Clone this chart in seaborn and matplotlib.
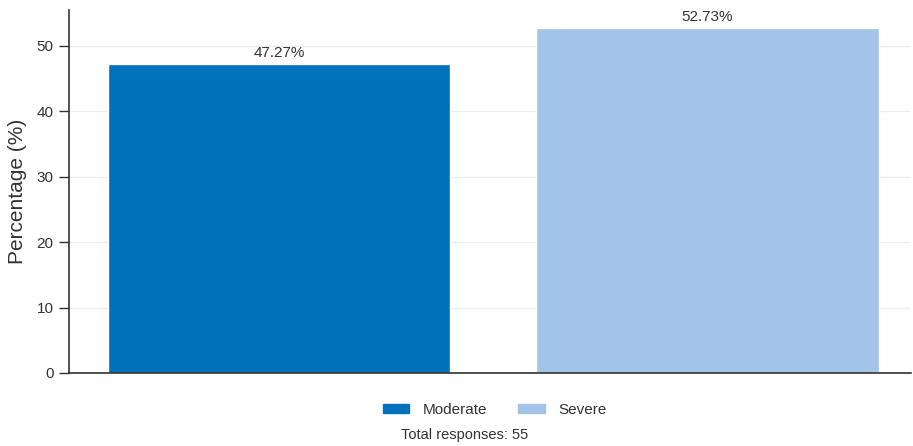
import pandas as pd
import matplotlib.pyplot as plt
import seaborn as sns

# data
categories = ["Moderate", "Severe"]
percentages = [47.27, 52.73]
total_responses = 55
colors = ["#0072BB", "#A2C4E8"]

df = pd.DataFrame({"Severity": categories, "Percentage": percentages})

sns.set_style("white")
plt.rcParams['font.family'] = ['Liberation Sans', 'DejaVu Sans']

fig = plt.figure(figsize=(9.13, 4.46), dpi=100)
ax = fig.add_axes([0.0756, 0.1637, 0.922, 0.814])

sns.barplot(data=df, x="Severity", y="Percentage", hue="Severity",
            palette=colors, width=0.8, saturation=1, ax=ax, legend=False, zorder=2)

ax.set_xlim(-0.49, 1.475)
ax.set_ylim(0, 55.5)
ax.set_yticks([0, 10, 20, 30, 40, 50])
ax.yaxis.grid(True, color="#EEEEEE", linewidth=1, zorder=0)
ax.set_axisbelow(True)
ax.set_xticks([])
ax.set_xlabel("")
ax.set_ylabel("Percentage (%)", fontsize=15, color="#333333", labelpad=7)
ax.tick_params(axis="y", labelsize=11, colors="#333333", length=7, width=1, left=True, pad=4)
sns.despine(ax=ax, top=True, right=True)
for s in ["left", "bottom"]:
    ax.spines[s].set_color("#333333")
    ax.spines[s].set_linewidth(1.2)

# value labels
for bar, val in zip(ax.patches, percentages):
    ax.text(bar.get_x() + bar.get_width() / 2, val + 0.6, f"{val:.2f}%",
            ha="center", va="bottom", fontsize=11, color="#333333")

# legend under the plot
handles = [plt.Rectangle((0, 0), 1, 1, color=c) for c in colors]
fig.legend(handles, categories, loc="center", bbox_to_anchor=(0.542, 0.081), ncol=2,
           frameon=False, fontsize=11, handlelength=1.75, handleheight=0.5,
           handletextpad=0.9, columnspacing=2.0, labelcolor="#333333")
fig.text(0.509, 0.025, f"Total responses: {total_responses}", ha="center", va="center",
         fontsize=10.5, color="#333333")

fig.savefig("out.png", dpi=100)
